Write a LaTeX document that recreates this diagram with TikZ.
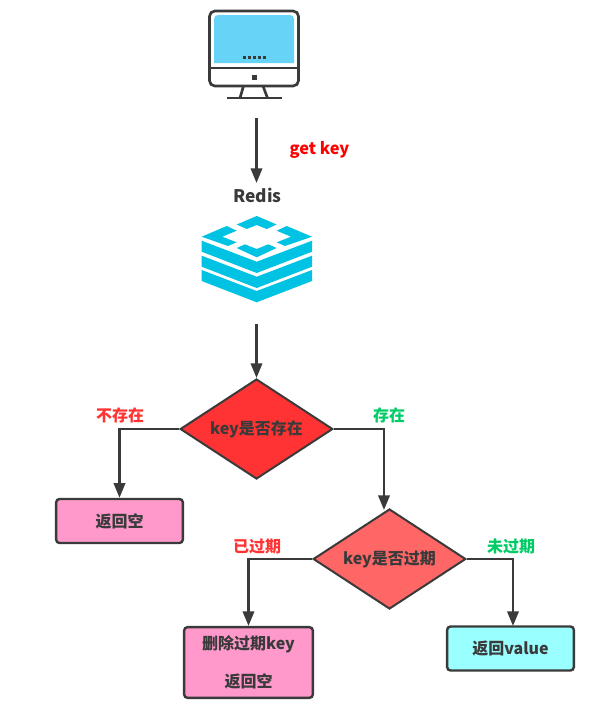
\documentclass[tikz,border=0pt]{standalone}
\usepackage{fontspec}
\setmainfont{Noto Sans CJK SC}
\usetikzlibrary{arrows.meta,shapes.geometric}
\definecolor{ink}{HTML}{3A3A3A}
\definecolor{redisc}{HTML}{00C3E3}
\definecolor{scr}{HTML}{67D3F7}
\definecolor{redA}{HTML}{FF3333}
\definecolor{redB}{HTML}{FF6666}
\definecolor{pinkb}{HTML}{FF99CC}
\definecolor{cyanb}{HTML}{99FFFF}
\definecolor{greenl}{HTML}{00CC66}
\tikzset{
  px/.style={x=0.75pt,y=-0.75pt},
  flowline/.style={draw=ink,line width=1.9pt,-{Triangle[length=11pt,width=8.5pt]}},
  boxstyle/.style={draw=ink,line width=1.8pt,rounded corners=2.5pt,inner sep=0pt,font=\fontsize{12}{14}\selectfont\bfseries,text=ink},
  dia/.style={diamond,aspect=1.53,draw=ink,line width=1.5pt,inner sep=0pt,font=\fontsize{12}{14}\selectfont\bfseries,text=ink,minimum width=114.5pt,minimum height=75pt},
  lab/.style={font=\fontsize{12}{14}\selectfont\bfseries,inner sep=0pt},
  monline/.style={draw=ink,line width=2pt},
}
\begin{document}
\begin{tikzpicture}[px]
\useasboundingbox (0,0) rectangle (598,718);
\fill[white] (0,0) rectangle (598,718);
% monitor
\draw[monline,rounded corners=4pt] (209.5,11) rectangle (298.5,86);
\fill[scr] (214,63) [rounded corners=3pt] -- (214,15) -- (294,15) [sharp corners] -- (294,63) -- cycle;
\draw[monline] (209.5,68) -- (298.5,68);
\fill[ink] (252,74.5) rectangle (257,80);
\foreach \x in {244,249.2,254.3,259.4,264.6} \fill[ink] (\x-1.5,55.5) rectangle (\x+1.5,59);
\draw[monline] (243.5,86) -- (240,98);
\draw[monline] (263,86) -- (267.5,98);
\draw[monline] (227,98) -- (282,98);
% redis icon
\fill[redisc] (256.7,216) -- (276.7,224.5) -- (266.7,229) -- (256.7,225) -- (246.7,229) -- (236.7,224.5) -- cycle;
\fill[redisc] (201.7,236.7) -- (226.7,226) -- (236.7,230.7) -- (222.3,236.7) -- (236.7,242.3) -- (228,246) -- cycle;
\fill[redisc] (312,236.7) -- (286.7,226) -- (276.7,230.7) -- (291,236.7) -- (276.7,242.3) -- (285,246) -- cycle;
\fill[redisc] (236.7,248) -- (245,244.3) -- (256.7,249) -- (268.3,244.3) -- (276.7,248) -- (256.7,257.3) -- cycle;
\foreach \d in {0,15,29.3}
  \fill[redisc] (201.7,240.7+\d) -- (256.7,261.7+\d) -- (312,240.7+\d) -- (312,251.7+\d) -- (256.7,273+\d) -- (201.7,251.7+\d) -- cycle;
% nodes
\node[dia,fill=redA] (d1) at (256.5,429) {key是否存在};
\node[dia,fill=redB] (d2) at (389.5,559) {key是否过期};
\node[boxstyle,fill=pinkb,minimum width=95pt,minimum height=33pt] (b1) at (119.5,521) {返回空};
\node[boxstyle,fill=pinkb,minimum width=96.5pt,minimum height=53pt,align=center] (b2) at (248.5,662.5) {删除过期key\\[15pt]返回空};
\node[boxstyle,fill=cyanb,minimum width=95pt,minimum height=33pt] (b3) at (510.5,648.5) {返回value};
\node[lab,text=ink,font=\fontsize{13}{15}\selectfont\bfseries] (redis) at (257.5,195) {Redis};
\node[lab,text=red,font=\fontsize{12.3}{15}\selectfont\bfseries] (getkey) at (319.5,150) {get key};
\node[lab,text=redA] (l1) at (120,415) {不存在};
\node[lab,text=greenl] (l2) at (389,415) {存在};
\node[lab,text=redA] (l3) at (257,546) {已过期};
\node[lab,text=greenl] (l4) at (511,546) {未过期};
\coordinate (mon) at (256.5,118);
\coordinate (redistail) at (256.5,324);
\coordinate (redishead) at (256.5,183);
\coordinate (d2top) at (384,510);
\coordinate (b3top) at (513,626);
% connectors
\draw[flowline] (mon) -- (redishead);
\draw[flowline] (redistail) -- (d1.north);
\draw[flowline] (d1.west) -| (b1.north);
\draw[flowline] (d1.east) -| (d2top);
\draw[flowline] (d2.west) -| (b2.north);
\draw[flowline] (d2.east) -| (b3top);
\end{tikzpicture}
\end{document}
